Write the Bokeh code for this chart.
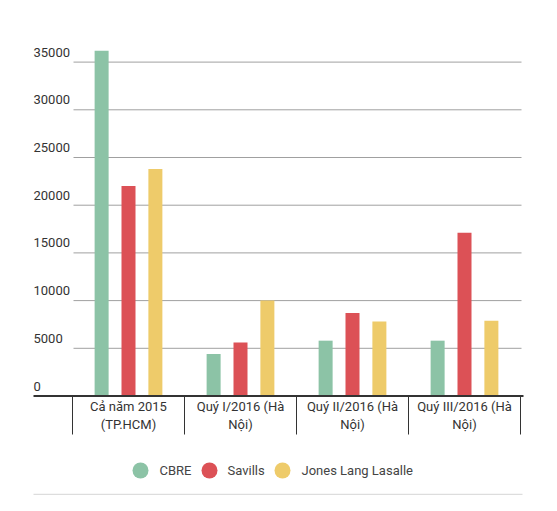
import numpy as np

from bokeh.plotting import figure
from bokeh.models import Range1d
from bokeh.core.properties import value
from bokeh.embed import file_html
from bokeh.resources import INLINE

# du lieu
categories = ["Cả năm 2015\n(TP.HCM)", "Quý I/2016 (Hà\nNội)",
              "Quý II/2016 (Hà\nNội)", "Quý III/2016 (Hà\nNội)"]
series = ["CBRE", "Savills", "Jones Lang Lasalle"]
cbre = [36200, 4400, 5800, 5800]
savills = [22000, 5600, 8700, 17100]
jll = [23800, 10000, 7800, 7900]
y_ticks = [0, 5000, 10000, 15000, 20000, 25000, 30000, 35000]

colors = ["#8cc3a6", "#dc5156", "#eecb6a"]
FONT = value("Roboto")

W, H = 541, 495
# bo cuc (pixel trong figure)
cat_left = 72        # bien trai cua nhom dau tien
cat_w = 112          # do rong moi nhom
base_y = 395.5       # vi tri truc 0
px_per_unit = 47.7 / 5000


def X(px):
    return -0.5 + (px - cat_left) / cat_w


def Y(py):
    return (base_y - py) / px_per_unit


p = figure(width=W, height=H, output_backend="svg", toolbar_location=None,
           x_range=Range1d(X(0), X(W)), y_range=Range1d(Y(H), Y(0)),
           min_border=0)
p.axis.visible = False
p.grid.visible = False
p.outline_line_color = None

# duong luoi
grid = [t for t in y_ticks if t > 0]
p.segment(x0=[X(73)] * len(grid), x1=[X(521)] * len(grid), y0=grid, y1=grid,
          line_color="#a0a0a0", line_width=1)

# cot
xs = np.arange(len(categories))
for k, (vals, c) in enumerate(zip([cbre, savills, jll], colors)):
    p.vbar(x=xs + (k - 1) * 0.24, top=vals, bottom=0, width=0.125,
           fill_color=c, line_color=None)

# nhan truc y (nam phia tren duong luoi)
p.text(x=[X(33)] * len(y_ticks), y=y_ticks, text=[str(t) for t in y_ticks],
       text_font=FONT, text_font_size="13px", text_color="#333333",
       text_baseline="middle", text_align="left", y_offset=-10)

# truc x
p.segment(x0=[X(33)], x1=[X(523)], y0=[0], y1=[0], line_color="#333333", line_width=2)
seps = np.arange(len(categories) + 1) - 0.5
p.segment(x0=seps, x1=seps, y0=[0] * len(seps), y1=[Y(434)] * len(seps),
          line_color="#333333", line_width=1)
p.text(x=xs, y=[Y(415)] * len(xs), text=categories, text_font=FONT,
       text_font_size="13px", text_color="#333333", text_align="center",
       text_baseline="middle", text_line_height=1.25)

# chu giai
leg_cx = [X(140), X(209), X(282)]
leg_tx = [X(159), X(227), X(301)]
p.scatter(x=leg_cx, y=[Y(470)] * 3, size=16, marker="circle",
          fill_color=colors, line_color=None)
p.text(x=leg_tx, y=[Y(470)] * 3, text=series, text_font=FONT,
       text_font_size="13px", text_color="#444444", text_baseline="middle",
       text_align="left")

# duong ke duoi
p.segment(x0=[X(33)], x1=[X(522)], y0=[Y(494)], y1=[Y(494)],
          line_color="#dddddd", line_width=1.5)

open("out.html", "w").write(file_html(p, INLINE))
